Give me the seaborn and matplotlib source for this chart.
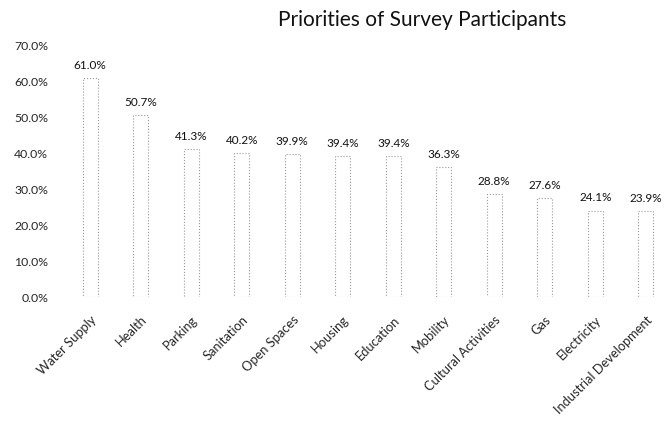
import matplotlib
matplotlib.use("Agg")
import matplotlib.pyplot as plt
from matplotlib.ticker import PercentFormatter
import seaborn as sns
import pandas as pd

categories = ["Water Supply", "Health", "Parking", "Sanitation", "Open Spaces", "Housing",
              "Education", "Mobility", "Cultural Activities", "Gas", "Electricity",
              "Industrial Development"]
shares = [61.0, 50.7, 41.3, 40.2, 39.9, 39.4, 39.4, 36.3, 28.8, 27.6, 24.1, 23.9]

df = pd.DataFrame({"category": categories, "share": shares})

sns.set_style("white")
plt.rcParams["font.family"] = ["Lato", "DejaVu Sans"]

fig = plt.figure(figsize=(6.71, 4.29), dpi=100)
ax = fig.add_axes([65 / 671, 132 / 429, 606 / 671, 251 / 429])

sns.barplot(data=df, x="category", y="share", color="white", width=0.3,
            edgecolor="#9a9a9a", linewidth=0.8, linestyle=":", ax=ax)

for i, v in enumerate(shares):
    ax.text(i, v + 2.0, f"{v:.1f}%", ha="center", va="bottom", fontsize=8.5, color="#111111")

ax.set_ylim(0, 70)
ax.set_xlim(-0.5, len(categories) - 0.5)
ax.set_yticks(range(0, 71, 10))
ax.yaxis.set_major_formatter(PercentFormatter(decimals=1))
ax.set_xlabel("")
ax.set_ylabel("")
ax.tick_params(axis="y", labelsize=8.8, length=0, pad=12)
ax.tick_params(axis="x", labelsize=9.3, length=0, pad=12)
for lbl in ax.get_xticklabels():
    lbl.set_rotation(45)
    lbl.set_ha("right")
    lbl.set_rotation_mode("anchor")
sns.despine(ax=ax, left=True, bottom=True)

fig.text(422 / 671, 1 - 20 / 429, "Priorities of Survey Participants", ha="center", va="center",
         fontsize=15, color="#111111")

fig.savefig("out.png", dpi=100)
plt.close(fig)
